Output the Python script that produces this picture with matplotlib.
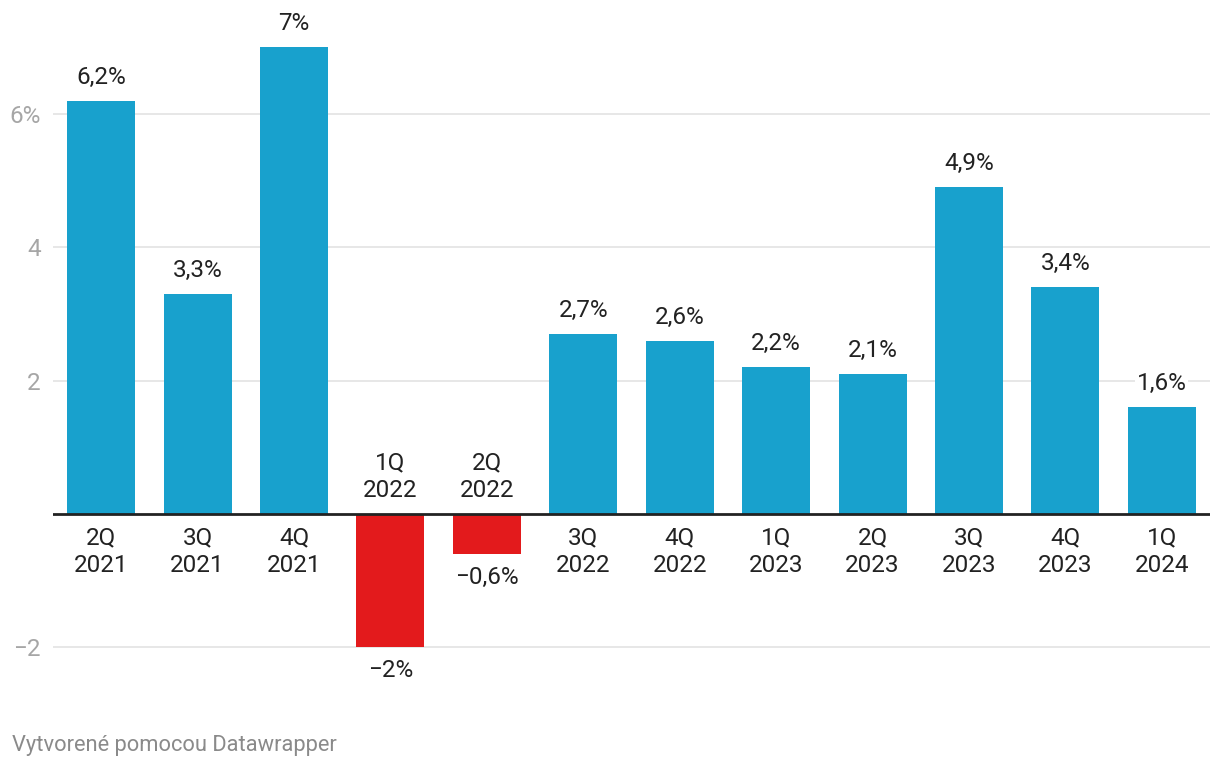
import matplotlib.pyplot as plt

plt.rcParams['font.family'] = ['Roboto', 'DejaVu Sans']

kvartaly = ['2Q\n2021', '3Q\n2021', '4Q\n2021', '1Q\n2022', '2Q\n2022', '3Q\n2022',
            '4Q\n2022', '1Q\n2023', '2Q\n2023', '3Q\n2023', '4Q\n2023', '1Q\n2024']
hodnoty = [6.2, 3.3, 7.0, -2.0, -0.6, 2.7, 2.6, 2.2, 2.1, 4.9, 3.4, 1.6]
popisky = ['6,2%', '3,3%', '7%', '−2%', '−0,6%', '2,7%', '2,6%', '2,2%', '2,1%', '4,9%', '3,4%', '1,6%']
y_ticky = [-2, 2, 4, 6]
y_popisky = ['−2', '2', '4', '6%']

modra = '#18a1cd'
cervena = '#e31a1c'

fig = plt.figure(figsize=(12.2, 7.68), dpi=100)
ax = fig.add_axes([53 / 1220, 78 / 768, 1157 / 1220, 670 / 768])

x = list(range(len(hodnoty)))
farby = [modra if v >= 0 else cervena for v in hodnoty]
ax.bar(x, hodnoty, width=0.705, color=farby, zorder=2)

ax.set_xlim(-0.5, 11.5)
ax.set_ylim(-2.64, 7.41)

for t in y_ticky:
    ax.axhline(t, color='#e3e3e3', lw=1.2, zorder=0)
ax.axhline(0, color='#222222', lw=2, zorder=3)

ax.set_yticks(y_ticky)
ax.set_yticklabels(y_popisky)
ax.tick_params(axis='y', length=0, pad=9, labelsize=17.5, labelcolor='#a6a6a6')
ax.set_xticks([])
for s in ax.spines.values():
    s.set_visible(False)

for i, (v, p, k) in enumerate(zip(hodnoty, popisky, kvartaly)):
    off = 17 if v >= 0 else -17
    ax.annotate(p, (i, v), xytext=(0, off), textcoords='offset points',
                ha='center', va='center', fontsize=17.5, color='#222222', zorder=4,
                bbox=dict(facecolor='white', edgecolor='none', pad=1))
    off2 = -27 if v >= 0 else 27
    ax.annotate(k, (i, 0), xytext=(0, off2), textcoords='offset points',
                ha='center', va='center', fontsize=17.5, color='#222222',
                linespacing=1.27, zorder=4)

fig.text(12 / 1220, 1 - 745 / 768, 'Vytvorené pomocou Datawrapper',
         fontsize=15.75, color='#8a8a8a', ha='left', va='center')

fig.savefig('out.png', dpi=100)
